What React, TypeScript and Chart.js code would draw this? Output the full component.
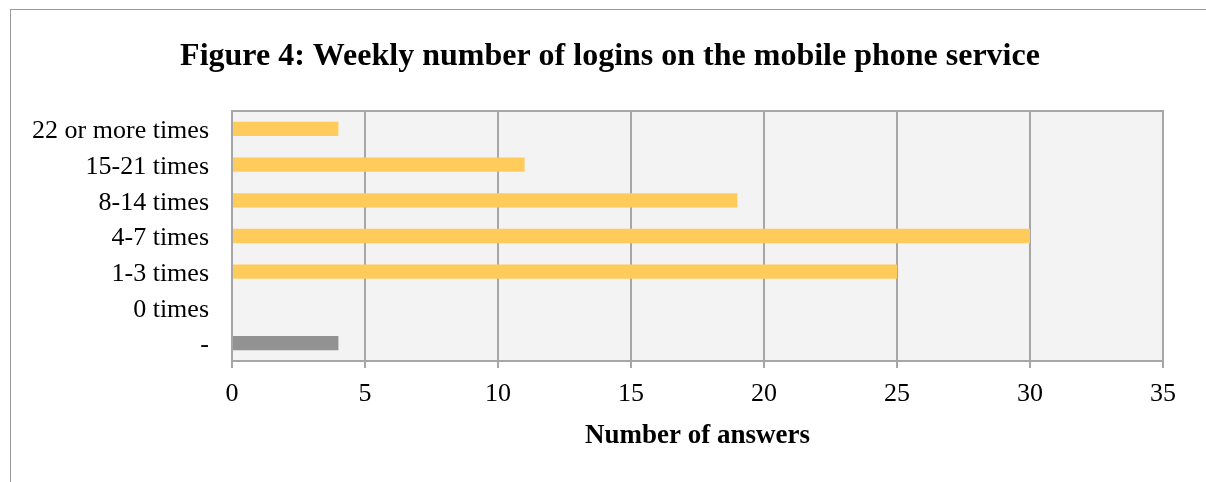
import React, { useEffect, useRef } from "react";
import { Chart, registerables } from "chart.js";

Chart.register(...registerables);

const categories = ["22 or more times", "15-21 times", "8-14 times", "4-7 times", "1-3 times", "0 times", "-"];
const answers = [4, 11, 19, 30, 25, 0, 4];
const barColors = ["#FFCC5C", "#FFCC5C", "#FFCC5C", "#FFCC5C", "#FFCC5C", "#FFCC5C", "#929292"];
const titleText = "Figure 4: Weekly number of logins on the mobile phone service";
const xAxisTitle = "Number of answers";

const SERIF = "'Liberation Serif', 'Times New Roman', serif";
const GRID = "#a6a6a6";

export default function App() {
  const ref = useRef<HTMLCanvasElement | null>(null);

  useEffect(() => {
    if (!ref.current) return;
    const plotFrame = {
      id: "plotFrame",
      beforeDraw(chart: any) {
        const { ctx, chartArea: a } = chart;
        ctx.save();
        ctx.fillStyle = "#f3f3f3";
        ctx.fillRect(a.left, a.top, a.right - a.left, a.bottom - a.top);
        ctx.restore();
      },
      afterDraw(chart: any) {
        const { ctx, chartArea: a } = chart;
        ctx.save();
        ctx.strokeStyle = GRID;
        ctx.lineWidth = 2;
        ctx.beginPath();
        ctx.moveTo(a.left - 1, a.top);
        ctx.lineTo(a.right + 1, a.top);
        ctx.stroke();
        ctx.fillStyle = "#000";
        ctx.font = `bold 32px ${SERIF}`;
        ctx.textAlign = "center";
        ctx.textBaseline = "alphabetic";
        ctx.fillText(titleText, 610, 65);
        ctx.restore();
      },
    };
    const chart = new Chart(ref.current, {
      type: "bar",
      data: {
        labels: categories,
        datasets: [
          {
            data: answers,
            backgroundColor: barColors,
            borderWidth: 0,
            categoryPercentage: 1,
            barPercentage: 0.4,
          },
        ],
      },
      options: {
        indexAxis: "y",
        animation: false,
        responsive: false,
        maintainAspectRatio: false,
        devicePixelRatio: 1,
        layout: { padding: { left: 0, right: 43, top: 111, bottom: 0 } },
        plugins: {
          legend: { display: false },
          tooltip: { enabled: false },
          title: { display: false },
        },
        scales: {
          x: {
            min: 0,
            max: 35,
            ticks: {
              stepSize: 5,
              color: "#000",
              font: { family: SERIF, size: 26 },
              padding: 11,
            },
            grid: { color: GRID, lineWidth: 2, tickLength: 7, drawTicks: true },
            border: { display: true, color: GRID, width: 2 },
            title: {
              display: true,
              text: xAxisTitle,
              color: "#000",
              font: { family: SERIF, size: 27, weight: "bold" },
              padding: { top: 0, bottom: 30 },
            },
            afterFit(scale: any) {
              scale.height = 121;
            },
          },
          y: {
            offset: true,
            grid: { display: false, drawTicks: false },
            border: { display: true, color: GRID, width: 2 },
            ticks: {
              color: "#000",
              font: { family: SERIF, size: 26 },
              padding: 23,
              labelOffset: 2.5,
            },
            afterFit(scale: any) {
              scale.width = 232;
            },
          },
        },
      },
      plugins: [plotFrame],
    });
    return () => chart.destroy();
  }, []);

  return (
    <div style={{ position: "fixed", left: 0, top: 0, width: 1206, height: 482, background: "#fff" }}>
      <canvas ref={ref} width={1206} height={482} style={{ position: "absolute", left: 0, top: 0, width: 1206, height: 482 }} />
      <div style={{ position: "absolute", left: 10, top: 9, width: 1196, height: 0, borderTop: "1px solid #9a9a9a" }} />
      <div style={{ position: "absolute", left: 10, top: 9, width: 0, height: 473, borderLeft: "1px solid #9a9a9a" }} />
    </div>
  );
}
